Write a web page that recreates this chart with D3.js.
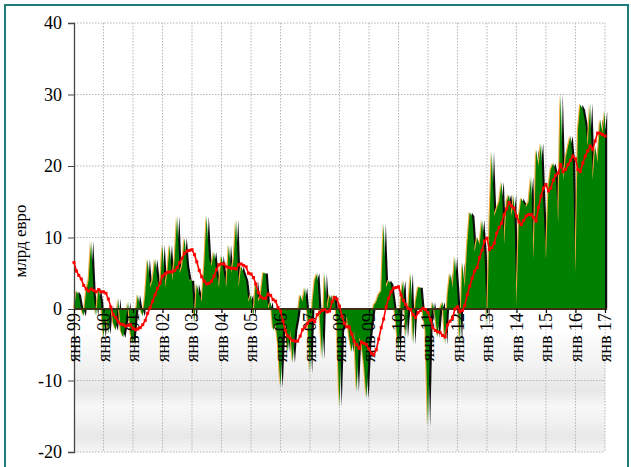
<!DOCTYPE html>
<html>
<head>
<meta charset="utf-8">
<script src="https://cdn.jsdelivr.net/npm/d3@7"></script>
<style>
body{margin:0;background:#fff;}
svg text{font-family:"Liberation Serif","Times New Roman",serif;}
</style>
</head>
<body>
<div id="chart"></div>
<script>
////////////////////////////////////////
// data: monthly balance, bln EUR, Jan 1999 .. Jan 2017
////////////////////////////////////////

var balance = [
	0, 2.5, 2, 0, -1, 2.5, 4, 9.5, 2, -1, 3, 1,
	-4, -1, -3.5, 0.5, -2, -3, 1.5, -3, -4, -2, 1, -3.5,
	-5, -1, 2, 0, -1, 2, 7, 3, 4, 7, 4, 3,
	9, 3, 5, 9, 4, 7, 13, 5, 6, 10, 6, 4,
	4, -2, 3.5, 2, 1, 6, 13, 7, 6, 8, 5, 3,
	7.5, 5, 3, 9, 5, 7, 12.5, 3, 6, 5, 4, 1,
	2, -1, 4, 1, 2, 5, 5, 0, 1, -3, -2, -5,
	-11, -3, -2, -6, -3, -7.5, -3, -1, 2, 1, 3, -1,
	-9, 1, 4, 5, -1, -7, 5, 0, 2, 1, 2, -2,
	-13.7, -3, -2, -1, -4, -6, -3, -11.6, -4, -5, -8, -12.5,
	-5, -2, 0.5, 1, 2, 2.5, 12, 3, 4, 3.5, 1, -2,
	-6, 2, 4, -4, 0, 5, -5, 1, 3, 3, -1, -3,
	-16.5, -2, 1, -1, -4, 0, 1, -5, 2, 5, 3, 7.3,
	2, -5, 6.5, 3, 9, 13.5, 13, 8, 10, 9, 12.5, 8,
	-2.5, 12, 22, 13, 14, 15, 17.8, 9, 15, 16, 13, 16,
	0.5, 13, 15.5, 14.8, 14.3, 15, 18.5, 6.9, 22.3, 20, 23.2, 14.3,
	6.9, 17, 19.5, 20.4, 19, 12, 30.2, 18, 21, 22.7, 24.2, 20.4,
	5, 25, 28.6, 27.9, 26, 22.8, 28.8, 18, 22.8, 20.4, 26.5, 24.6,
	27.7
];

var trend = [
	6.5, 5.3, 4.7, 4.2, 3.3, 2.8, 2.5, 2.8, 2.6, 2.4, 2.7, 2.4,
	2.4, 2.2, 1.4, 0.3, -0.8, -1.2, -1.8, -2.1, -2.2, -2.4, -2.3, -2.2,
	-2.7, -2.9, -2.8, -2.6, -2.2, -1.6, -0.6, 0.2, 1.1, 2, 2.9, 3.6,
	4.6, 4.9, 5.1, 5.2, 5.2, 5.4, 5.8, 6.5, 7.1, 7.8, 8.1, 8.2,
	8.3, 7.6, 6.6, 5.4, 4.5, 3.9, 3.5, 3.6, 3.9, 4.6, 5.5, 6.2,
	6.3, 6.3, 5.9, 5.8, 5.7, 5.7, 5.6, 6.2, 6.3, 6.1, 5.9, 5.0,
	4.9, 4.4, 3.5, 2.3, 1.7, 1.5, 1.5, 2.1, 1.9, 1.3, 1.1, 0.2,
	-0.3, -1.7, -3.0, -3.8, -4.1, -4.4, -4.5, -4.5, -3.8, -2.9, -2.5, -2.0,
	-1.6, -1.5, -1.8, -0.8, -0.5, -0.2, -0.1, -0.4, -0.3, 1.0, 1.6, 1.4,
	0.4, -1.0, -2.0, -2.5, -2.5, -3.5, -4.5, -5.0, -5.5, -4.6, -4.8, -5.0,
	-5.6, -6.2, -6.4, -5.7, -4.2, -2.6, -1.4, 0.3, 1.5, 2.4, 2.9, 3.0,
	3.1, 2.0, 1.2, 0.6, 0.1, -0.1, -0.8, -1.2, -0.5, -0.2, 0.1, -0.1,
	-0.5, -1.5, -2.6, -3.0, -3.2, -3.3, -3.7, -3.9, -2.2, -1.7, -1.3, 0.0,
	0.3, -0.4, -0.2, 0.5, 2.0, 3.2, 4.3, 5.3, 5.8, 7.2, 8.2, 9.5,
	9.9, 8.3, 8.6, 9.2, 10.6, 11.4, 12.0, 13.2, 14.0, 14.9, 14.4, 14.1,
	13.0, 12.2, 11.8, 12.4, 13.0, 13.2, 13.2, 12.8, 12.3, 14.2, 15.8, 16.9,
	17.4, 16.5, 16.9, 18.0, 18.7, 19.0, 20.2, 19.2, 19.5, 20.2, 20.8, 21.4,
	21.0, 19.5, 19.2, 20.4, 21.4, 22.1, 22.8, 22.3, 23.5, 24.6, 24.6, 24.4,
	24.2
];

var tickLabels = ['янв 99','янв 00','янв 01','янв 02','янв 03','янв 04','янв 05',
	'янв 06','янв 07','янв 08','янв 09','янв 10','янв 11','янв 12','янв 13',
	'янв 14','янв 15','янв 16','янв 17'];

var yTicks = [-20, -10, 0, 10, 20, 30, 40];

////////////////////////////////////////

var W = 631, H = 467;
var plotL = 74, plotR = 605, plotT = 23, plotB = 452;
var serif = '"Liberation Serif", "Times New Roman", serif';
var start = new Date(1999, 0, 1);

function monthDate(i){ return d3.timeMonth.offset(start, i); }

var x = d3.scaleTime()
	.domain([start, monthDate(balance.length - 1)])
	.range([plotL, plotR]);

var y = d3.scaleLinear()
	.domain([-20, 40])
	.range([plotB, plotT]);

var svg = d3.select('#chart').append('svg')
	.attr('width', W)
	.attr('height', H);

var defs = svg.append('defs');

var grad = defs.append('linearGradient')
	.attr('id', 'bgGrad')
	.attr('x1', 0).attr('y1', 0).attr('x2', 0).attr('y2', 1);
[[0,'#ffffff'],[0.35,'#eeeeee'],[0.5,'#e8e8e8'],[0.62,'#f7f7f7'],
 [0.75,'#f1f1f1'],[0.88,'#e8e8e8'],[1,'#f6f6f6']].forEach(function(s){
	grad.append('stop').attr('offset', s[0]).attr('stop-color', s[1]);
});

defs.append('filter')
	.attr('id', 'soft')
	.attr('x', '-10%').attr('y', '-10%').attr('width', '120%').attr('height', '120%')
	.append('feGaussianBlur')
	.attr('stdDeviation', 0.6);

// frame
svg.append('rect')
	.attr('x', 5).attr('y', 5)
	.attr('width', 623).attr('height', 470)
	.attr('fill', 'none')
	.attr('stroke', '#217b7b')
	.attr('stroke-width', 2);

// lower background band
svg.append('rect')
	.attr('x', plotL).attr('y', y(-3))
	.attr('width', plotR - plotL).attr('height', plotB - y(-3))
	.attr('fill', 'url(#bgGrad)');

// grid
svg.append('g').selectAll('line')
	.data(yTicks.filter(function(d){ return d !== 0; }))
	.enter().append('line')
	.attr('x1', plotL).attr('x2', plotR)
	.attr('y1', function(d){ return y(d); })
	.attr('y2', function(d){ return y(d); })
	.attr('stroke', '#b4b4b4')
	.attr('stroke-width', 1)
	.attr('stroke-dasharray', '1.5,1.5');

svg.append('g').selectAll('line')
	.data(tickLabels)
	.enter().append('line')
	.attr('x1', function(d, i){ return x(monthDate(i * 12)); })
	.attr('x2', function(d, i){ return x(monthDate(i * 12)); })
	.attr('y1', plotT).attr('y2', plotB)
	.attr('stroke', '#b4b4b4')
	.attr('stroke-width', 1)
	.attr('stroke-dasharray', '1.5,1.5')
	.attr('opacity', function(d, i){ return i === 0 ? 0 : 1; });

////////////////////////////////////////
// area with highlight and shadow
////////////////////////////////////////

var area = d3.area()
	.x(function(d, i){ return x(monthDate(i)); })
	.y0(y(0))
	.y1(function(d){ return y(d); });

svg.append('path')
	.datum(balance)
	.attr('d', area)
	.attr('transform', 'translate(2.2,0.3)')
	.attr('fill', '#111')
	.attr('filter', 'url(#soft)');

svg.append('path')
	.datum(balance)
	.attr('d', area)
	.attr('transform', 'translate(-1.1,-0.7)')
	.attr('fill', '#f2a93b');

svg.append('path')
	.datum(balance)
	.attr('d', area)
	.attr('fill', '#008000');

// zero line
svg.append('line')
	.attr('x1', plotL).attr('x2', plotR + 2)
	.attr('y1', y(0)).attr('y2', y(0))
	.attr('stroke', '#3b3216')
	.attr('stroke-width', 2);

////////////////////////////////////////
// axes
////////////////////////////////////////

var yAxis = svg.append('g')
	.attr('transform', 'translate(' + plotL + ',0)')
	.call(d3.axisLeft(y).tickValues(yTicks).tickSize(6).tickPadding(6)
		.tickFormat(function(d){ return String(d); }))
	.attr('font-family', serif)
	.attr('font-size', 18);
yAxis.select('.domain').attr('stroke', '#444').attr('stroke-width', 1.3);
yAxis.selectAll('.tick line').attr('stroke', '#444');
yAxis.selectAll('text').attr('fill', '#000');

var xAxis = svg.append('g')
	.attr('transform', 'translate(0,' + y(0) + ')')
	.call(d3.axisBottom(x)
		.tickValues(tickLabels.map(function(d, i){ return monthDate(i * 12); }))
		.tickSize(4)
		.tickFormat(function(d, i){ return tickLabels[i]; }))
	.attr('font-family', serif)
	.attr('font-size', 18);
xAxis.select('.domain').remove();
xAxis.selectAll('.tick line').attr('stroke', '#000').attr('stroke-width', 1.2);
xAxis.selectAll('text')
	.attr('fill', '#000')
	.attr('text-anchor', 'end')
	.attr('transform', 'rotate(-90)')
	.attr('x', -4)
	.attr('y', 0)
	.attr('dy', '0.33em');

svg.append('text')
	.attr('transform', 'translate(26,241) rotate(-90)')
	.attr('text-anchor', 'middle')
	.attr('font-family', serif)
	.attr('font-size', 17)
	.text('млрд евро');

////////////////////////////////////////
// trend line
////////////////////////////////////////

var line = d3.line()
	.x(function(d, i){ return x(monthDate(i)); })
	.y(function(d){ return y(d); });

svg.append('path')
	.datum(trend)
	.attr('d', line)
	.attr('fill', 'none')
	.attr('stroke', '#ff0000')
	.attr('stroke-width', 1.6);

svg.append('g').selectAll('rect')
	.data(trend)
	.enter().append('rect')
	.attr('x', function(d, i){ return x(monthDate(i)) - 1.5; })
	.attr('y', function(d){ return y(d) - 1.5; })
	.attr('width', 3)
	.attr('height', 3)
	.attr('fill', '#ff0000');
</script>
</body>
</html>
